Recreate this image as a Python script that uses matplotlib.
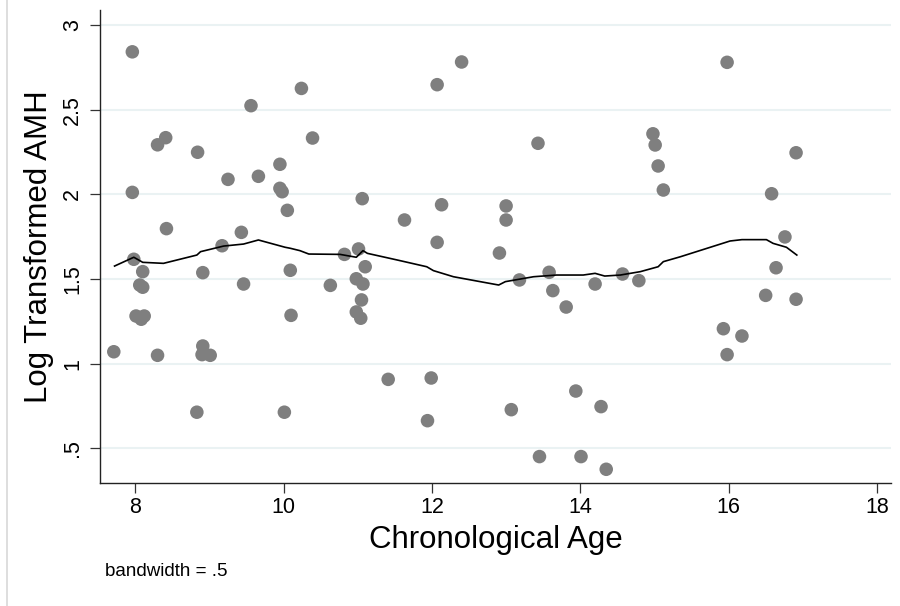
import matplotlib
matplotlib.use("Agg")
import matplotlib.pyplot as plt
from matplotlib.lines import Line2D

plt.rcParams['font.family'] = ['Liberation Sans', 'DejaVu Sans']

# Scatter data (age, log AMH)
age = [7.71, 7.96, 7.96, 7.98, 8.10, 8.06, 8.10, 8.01, 8.12, 8.08,
       8.30, 8.30, 8.41, 8.42, 8.84, 8.83, 8.91, 8.91, 8.90, 9.01,
       9.17, 9.25, 9.43, 9.46, 9.56, 9.66, 9.95, 9.95, 9.98, 10.05,
       10.09, 10.10, 10.01, 10.24, 10.39, 10.63, 10.82, 11.01, 11.06, 11.10,
       10.98, 11.07, 11.05, 10.98, 11.04, 11.41, 11.63, 11.99, 11.94, 12.07,
       12.40, 12.13, 12.07, 13.43, 13.00, 13.00, 12.91, 13.18, 13.07, 13.45,
       13.58, 13.63, 13.81, 13.94, 14.01, 14.28, 14.35, 14.20, 14.57, 14.79,
       14.98, 15.01, 15.05, 15.12, 15.98, 16.91, 16.58, 16.76, 16.64, 16.50,
       16.91, 15.93, 16.18, 15.98]
amh = [1.071, 2.842, 2.012, 1.617, 1.544, 1.465, 1.452, 1.282, 1.282, 1.263,
       1.050, 2.293, 2.335, 1.798, 2.249, 0.714, 1.538, 1.105, 1.054, 1.050,
       1.697, 2.089, 1.776, 1.471, 2.524, 2.107, 2.178, 2.036, 2.016, 1.906,
       1.552, 1.286, 0.714, 2.626, 2.333, 1.463, 1.646, 1.678, 1.975, 1.573,
       1.502, 1.471, 1.377, 1.306, 1.269, 0.908, 1.849, 0.916, 0.664, 2.648,
       2.782, 1.939, 1.717, 2.302, 1.932, 1.849, 1.654, 1.495, 0.729, 0.452,
       1.540, 1.432, 1.335, 0.839, 0.452, 0.747, 0.377, 1.471, 1.530, 1.491,
       2.358, 2.292, 2.168, 2.026, 2.780, 2.246, 2.004, 1.749, 1.567, 1.404,
       1.381, 1.207, 1.164, 1.054]

# Lowess smooth
smooth_age = [7.72, 7.98, 8.10, 8.38, 8.83, 8.88, 9.19, 9.46, 9.66, 10.02,
              10.09, 10.22, 10.34, 10.76, 10.98, 11.07, 11.13, 11.53, 11.93, 12.02,
              12.29, 12.65, 12.90, 12.99, 13.37, 13.68, 14.04, 14.20, 14.33, 14.54,
              14.81, 15.05, 15.12, 15.35, 16.02, 16.18, 16.51, 16.60, 16.78, 16.92]
smooth_amh = [1.577, 1.629, 1.599, 1.593, 1.642, 1.662, 1.695, 1.707, 1.731, 1.688,
              1.682, 1.668, 1.648, 1.646, 1.629, 1.668, 1.652, 1.613, 1.573, 1.550,
              1.514, 1.485, 1.465, 1.485, 1.514, 1.524, 1.524, 1.534, 1.518, 1.524,
              1.544, 1.573, 1.603, 1.632, 1.725, 1.733, 1.733, 1.711, 1.688, 1.642]

x_ticks = [8, 10, 12, 14, 16, 18]
y_ticks = [0.5, 1, 1.5, 2, 2.5, 3]
y_ticklabels = ['.5', '1', '1.5', '2', '2.5', '3']

fig = plt.figure(figsize=(9, 6.06), dpi=100)
ax = fig.add_axes([100 / 900, 123 / 606, 791 / 900, 473 / 606])

ax.scatter(age, amh, s=95, color='#7f7f7f', edgecolors='none', zorder=3)
ax.plot(smooth_age, smooth_amh, color='black', lw=1.2, zorder=4)

ax.set_xlim(7.524, 18.19)
ax.set_ylim(0.296, 3.089)
ax.set_xticks(x_ticks)
ax.set_yticks(y_ticks)
ax.set_yticklabels(y_ticklabels, rotation=90, va='center')
ax.tick_params(axis='both', labelsize=15.5, length=7, width=0.9, color='#333333')
ax.tick_params(axis='y', pad=5)
ax.tick_params(axis='x', pad=3)

ax.grid(axis='y', color='#eaf2f3', lw=1.5, zorder=0)
ax.set_axisbelow(True)
for side in ['top', 'right']:
    ax.spines[side].set_visible(False)
for side in ['left', 'bottom']:
    ax.spines[side].set_linewidth(1.0)
    ax.spines[side].set_color('#222222')

ax.set_xlabel('Chronological Age', fontsize=22.5, labelpad=5)
ax.set_ylabel('Log Transformed AMH', fontsize=22.5, labelpad=6)

fig.text(105 / 900, 1 - 572 / 606, 'bandwidth = .5', fontsize=13.5, va='center')
fig.add_artist(Line2D([7 / 900, 7 / 900], [0, 1], color='#d8d8d8', lw=1.2))

fig.savefig('out.png', dpi=100)
